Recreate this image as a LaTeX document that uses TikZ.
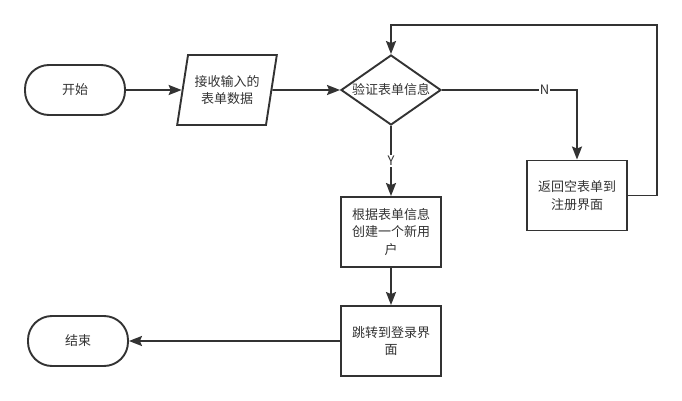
\documentclass[tikz,border=0pt]{standalone}
\usepackage{fontspec}
\setmainfont{Noto Sans CJK SC}
\usetikzlibrary{arrows.meta,shapes.geometric}
\definecolor{ink}{HTML}{333333}
\tikzset{
  base/.style={draw=ink, line width=1.9pt, text=ink, font=\fontsize{13}{17.5}\selectfont, align=center, inner sep=0pt},
  term/.style={base, rectangle, rounded corners=24pt, minimum width=100pt, minimum height=50pt},
  iobox/.style={base, trapezium, trapezium left angle=73, trapezium right angle=107, trapezium stretches=true, minimum width=100pt, minimum height=70pt},
  decide/.style={base, diamond, aspect=1.43, minimum width=100pt, minimum height=70pt},
  procbox/.style={base, rectangle, minimum width=100pt, minimum height=70pt},
  conn/.style={draw=ink, line width=1.9pt, -{Stealth[length=13pt,width=10pt,inset=2pt]}},
  lbl/.style={fill=white, text=ink, font=\fontsize{13}{15}\selectfont, inner sep=1pt}
}
\begin{document}
\begin{tikzpicture}[x=1pt,y=-1pt]
\useasboundingbox[fill=white] (0,0) rectangle (682,401);
\node[term] (start) at (75,90) {开始};
\node[iobox] (input) at (227,90) {接收输入的\\表单数据};
\node[decide] (check) at (391,90) {验证表单信息};
\node[procbox] (back) at (577,195.5) {返回空表单到\\注册界面};
\node[procbox] (create) at (391,232) {根据表单信息\\创建一个新用\\户};
\node[procbox] (jump) at (391,341) {跳转到登录界\\面};
\node[term] (finish) at (78,341) {结束};
\coordinate (loopR) at (657,25);

\draw[conn] (start) -- (input);
\draw[conn] (input) -- (check);
\draw[conn] (check.east) -| node[lbl, pos=0.38] {N} (back.north);
\draw[conn] (back.east) -| (loopR) -| (check.north);
\draw[conn] (check.south) -- node[lbl] {Y} (create.north);
\draw[conn] (create) -- (jump);
\draw[conn] (jump) -- (finish);
\end{tikzpicture}
\end{document}
